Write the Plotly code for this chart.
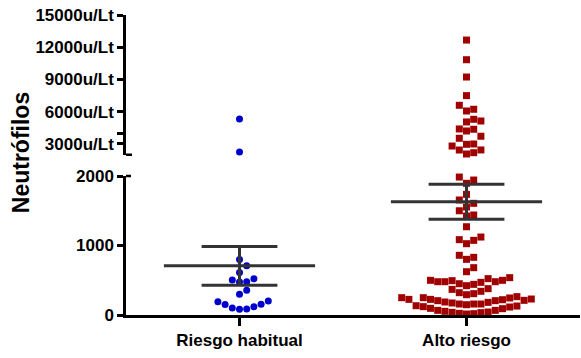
import numpy as np
import plotly.graph_objects as go

# ---------------- data ----------------
categories = ["Riesgo habitual", "Alto riesgo"]

riesgo_habitual = [5330, 2260, 800, 710, 610, 505, 475, 480, 520, 355, 300,
                   192, 150, 101, 82, 86, 120, 155, 201]

alto_riesgo = [
    # > 2000 (upper segment)
    12670, 10840, 9230, 7500, 6600, 6070, 6230, 5140, 5050, 5300,
    4400, 4210, 4370, 3720, 3530, 2810, 3000, 2440, 2970, 2070, 2190, 2445,
    # <= 2000 (lower segment)
    1985, 1942, 1895, 1736, 1655, 1607, 1554, 1500, 1439, 1424, 1270,
    1122, 1084, 1074, 1026, 859, 830, 801, 681, 623,
    537, 523, 499, 499, 494, 479, 479, 479, 470, 450, 441,
    422, 379, 369, 341, 321, 307, 292,
    264, 249, 249, 245, 230, 225, 225, 220, 211, 206, 206, 187, 182, 173, 158, 158, 158, 148,
    134, 129, 120, 115, 96, 91, 67, 67, 53, 43, 38, 34, 24, 19, 14,
]

y_lower_ticks = [0, 1000, 2000]
y_upper_ticks = [3000, 4000, 6000, 9000, 12000, 15000]
y_upper_labels = ["3000u/Lt", "", "6000u/Lt", "9000u/Lt", "12000u/Lt", "15000u/Lt"]
y_title = "Neutrófilos"

# ---------------- layout constants ----------------
W, H = 581, 358
ML, MR, MT, MB = 126, 1, 15, 43
PW, PH = W - ML - MR, H - MT - MB
LOW_DOM = [0.0, 0.4633]
UP_DOM = [0.5342, 1.0]
LOW_RANGE = [0, 2000]
UP_RANGE = [2000, 15000]
BREAK = 2000


def to_pix(v):
    """screen y pixel of a value on the broken axis (used for the swarm layout only)"""
    if v <= BREAK:
        y0 = MT + PH * (1 - LOW_DOM[0])
        h = PH * (LOW_DOM[1] - LOW_DOM[0])
        return y0 - (v - LOW_RANGE[0]) / (LOW_RANGE[1] - LOW_RANGE[0]) * h
    y0 = MT + PH * (1 - UP_DOM[0])
    h = PH * (UP_DOM[1] - UP_DOM[0])
    return y0 - (v - UP_RANGE[0]) / (UP_RANGE[1] - UP_RANGE[0]) * h


def swarm(values, center, d=8.5, step_px=7.2):
    vals = np.asarray(values, float)
    pix = np.array([to_pix(v) for v in vals])
    order = np.argsort(vals, kind="stable")
    cols = np.zeros(len(vals), int)
    placed = []
    seq = [0]
    for j in range(1, 60):
        seq += [j, -j]
    for i in order:
        k = 0
        for c in seq:
            if all(not (pc == c and abs(pp - pix[i]) < d) for pc, pp in placed):
                k = c
                break
        cols[i] = k
        placed.append((k, pix[i]))
    unit_px = PW / 2.0
    return center + cols * step_px / unit_px


FONT = dict(family="Liberation Sans, Arial, sans-serif", size=17, color="black", weight="bold")

fig = go.Figure()

groups = [
    (riesgo_habitual, 0, dict(symbol="circle", size=7, color="#0000CC")),
    (alto_riesgo, 1, dict(symbol="square", size=7, color="#A00000")),
]

for vals, cx, mk in groups:
    vals = np.asarray(vals, float)
    xs = swarm(vals, cx)
    low = vals <= BREAK
    fig.add_trace(go.Scatter(x=xs[low], y=vals[low], mode="markers", marker=dict(**mk, line=dict(width=0)),
                             xaxis="x", yaxis="y", cliponaxis=False, showlegend=False))
    fig.add_trace(go.Scatter(x=xs[~low], y=vals[~low], mode="markers", marker=dict(**mk, line=dict(width=0)),
                             xaxis="x", yaxis="y2", cliponaxis=False, showlegend=False))
    mean = vals.mean()
    sem = vals.std(ddof=1) / np.sqrt(len(vals))
    lc = dict(color="#333333", width=3)
    fig.add_trace(go.Scatter(x=[cx - 0.333, cx + 0.333], y=[mean, mean], mode="lines", line=lc,
                             yaxis="y", showlegend=False, cliponaxis=False))
    for yy in (mean - sem, mean + sem):
        fig.add_trace(go.Scatter(x=[cx - 0.167, cx + 0.167], y=[yy, yy], mode="lines", line=lc,
                                 yaxis="y", showlegend=False, cliponaxis=False))
    fig.add_trace(go.Scatter(x=[cx, cx], y=[mean - sem, mean + sem], mode="lines", line=lc,
                             yaxis="y", showlegend=False, cliponaxis=False))

axis_common = dict(showline=True, linecolor="black", linewidth=2.5, ticks="outside",
                   tickcolor="black", tickwidth=2.5, showgrid=False, zeroline=False,
                   tickfont=FONT, automargin=False, ticklabeloverflow="allow")

# screen position of the rotated y title
title_x_screen, title_y_screen = 20.7, 152.5

fig.update_layout(
    width=W, height=H,
    margin=dict(l=ML, r=MR, t=MT, b=MB, autoexpand=False),
    paper_bgcolor="white", plot_bgcolor="white",
    showlegend=False,
    xaxis=dict(range=[-0.5, 1.5], tickvals=[0, 1], ticktext=categories, ticklen=8,
               anchor="y", **axis_common),
    yaxis=dict(domain=LOW_DOM, range=LOW_RANGE, tickvals=y_lower_ticks, ticklen=6,
               anchor="x", **axis_common),
    yaxis2=dict(domain=UP_DOM, range=UP_RANGE, tickvals=y_upper_ticks, ticktext=y_upper_labels,
                ticklen=6, anchor="x", **axis_common),
    annotations=[dict(text=y_title, textangle=-90, xref="paper", yref="paper",
                      x=(title_x_screen - ML) / PW,
                      y=(MT + PH - title_y_screen) / PH,
                      xanchor="center", yanchor="middle", showarrow=False,
                      font=dict(family="Liberation Sans, Arial, sans-serif", size=23,
                                color="black", weight="bold"))],
    shapes=[
        dict(type="line", xref="paper", yref="paper", x0=0, x1=6 / PW,
             y0=UP_DOM[0], y1=UP_DOM[0], line=dict(color="black", width=2.5)),
        dict(type="line", xref="paper", yref="paper", x0=0, x1=5 / PW,
             y0=LOW_DOM[1], y1=LOW_DOM[1], line=dict(color="black", width=2.5)),
    ],
)

fig.write_html("out.html", config={"displayModeBar": False},
               post_script="document.body.style.margin='0';document.body.style.overflow='hidden';")
